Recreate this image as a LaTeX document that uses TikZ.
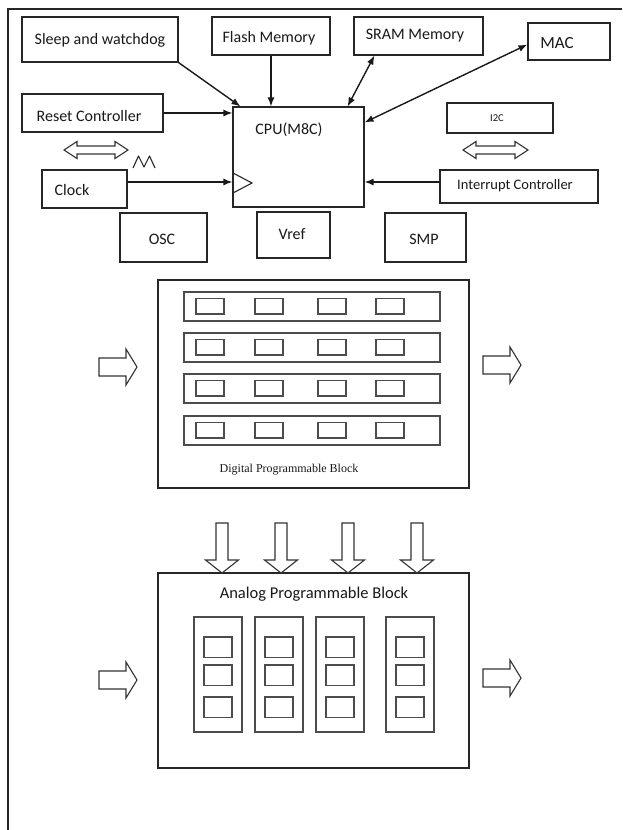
\documentclass[tikz,border=0pt]{standalone}
\usepackage{fontspec}
\setmainfont{Carlito}
\newfontfamily\digserif{Liberation Serif}
\usetikzlibrary{arrows.meta}
\newcommand\mybx[6][box]{\node[#1, minimum width={((#5)-(#3))*1pt}, minimum height={((#6)-(#4))*1pt}] (#2) at ({((#3)+(#5))/2},{((#4)+(#6))/2}) {};}
\begin{document}
\begin{tikzpicture}[x=1pt,y=-1pt,
  box/.style={draw=black!85, line width=1.1pt, inner sep=0pt, fill=white},
  cell/.style={draw=black!70, line width=1.1pt, inner sep=0pt},
  lbl/.style={inner sep=0pt, anchor=center, text=black!90, font=\fontsize{16}{19}\selectfont},
  small/.style={lbl, font=\fontsize{14.5}{17}\selectfont},
  tiny/.style={lbl, font=\fontsize{10.5}{12}\selectfont},
  conn/.style={draw=black!90, line width=1.4pt, -{Latex[length=9pt,width=7pt]}},
  conn2/.style={draw=black!90, line width=1.4pt, {Latex[length=9pt,width=7pt]}-{Latex[length=9pt,width=7pt]}},
  hollow/.style={draw=black!80, line width=1.1pt, fill=white, line join=miter}]
\useasboundingbox[fill=white] (0,0) rectangle (622,830);
% frame
\draw[black!85, line width=1.2pt] (8,830) -- (8,9) -- (622,9);
% top blocks
\mybx{sleep}{22}{17}{178}{62}
\mybx{flash}{212}{17}{330}{55}
\mybx{sram}{354}{17}{483}{55}
\mybx{mac}{528}{23}{610}{60}
\mybx{reset}{22}{94}{163}{132}
\mybx{cpu}{233}{107}{364}{207}
\mybx{iic}{447}{103}{553}{133}
\mybx{clock}{42}{170}{127}{208}
\mybx{intr}{440}{170}{598}{203}
\mybx{osc}{120}{213}{207}{262}
\mybx{vref}{257}{212}{330}{258}
\mybx{smp}{385}{213}{466}{262}
\node[lbl] (tsleep) at (100,40) {Sleep and watchdog};
\node[lbl] (tflash) at (269,38) {Flash Memory};
\node[lbl] (tsram) at (415,36) {SRAM Memory};
\node[lbl, font=\fontsize{17}{20}\selectfont] (tmac) at (557,43) {MAC};
\node[lbl] (treset) at (89,116) {Reset Controller};
\node[lbl] (tcpu) at (289,130) {CPU(M8C)};
\node[tiny] (tiic) at (497,118) {I2C};
\node[lbl] (tclock) at (72,190) {Clock};
\node[small] (tintr) at (515,186) {Interrupt Controller};
\node[lbl] (tosc) at (162,239) {OSC};
\node[lbl] (tvref) at (292,234) {Vref};
\node[lbl] (tsmp) at (424,239) {SMP};
% connectors
\draw[conn] (sleep.south east) -- ([xshift=8pt]cpu.north west);
\draw[conn] (flash.south) -- (flash.south |- cpu.north);
\draw[conn2] ([xshift=21pt]sram.south west) -- ([xshift=-17pt]cpu.north east);
\draw[conn2] ([yshift=-3pt]mac.west) -- ([yshift=-16pt]cpu.north east);
\draw[conn] (reset.east) -- (reset.east -| cpu.west);
\draw[conn] ([yshift=7pt]clock.east) -- ([yshift=7pt]clock.east -| cpu.west);
\draw[conn] ([yshift=4.5pt]intr.west) -- ([yshift=4.5pt]intr.west -| cpu.east);
% clock triangle and waveform
\draw[black!85, line width=1.1pt] (233,173) -- (252,183) -- (233,193);
\draw[black!85, line width=1.1pt, line join=round] (133,168) -- (138.5,156) -- (144,167) -- (149.5,156) -- (155,168);
% hollow double arrows
\draw[hollow] (64,150) -- (77,141.5) -- (77,146) -- (115,146) -- (115,141.5) -- (128,150) -- (115,158.5) -- (115,154) -- (77,154) -- (77,158.5) -- cycle;
\draw[hollow] (463,150) -- (476,141.5) -- (476,146) -- (515,146) -- (515,141.5) -- (528,150) -- (515,158.5) -- (515,154) -- (476,154) -- (476,158.5) -- cycle;
% digital block
\mybx{digital}{158}{280}{469}{488}
\foreach \r/\t in {1/292,2/333,3/374,4/416}{
  \mybx[cell]{drow\r}{184}{\t}{440}{\t+29}
  \foreach \c/\x in {1/196,2/255,3/318,4/376}{
    \mybx[cell]{dcell\r\c}{\x}{\t+6.5}{\x+28}{\t+22}
  }
}
\node[lbl, font=\digserif\fontsize{12}{14}\selectfont] (tdig) at (289,470) {Digital Programmable Block};
\draw[hollow] (99,358) -- (126,358) -- (126,349) -- (137,367) -- (126,385) -- (126,376) -- (99,376) -- cycle;
\draw[hollow] (483,356) -- (510,356) -- (510,347) -- (521,365) -- (510,383) -- (510,374) -- (483,374) -- cycle;
% analog block
\mybx{analog}{158}{573}{469}{768}
\node[lbl, font=\fontsize{16.5}{19}\selectfont] (tana) at (314,594) {Analog Programmable Block};
\foreach \c/\x in {1/194,2/255,3/316,4/386}{
  \mybx[cell]{acol\c}{\x}{617}{\x+48}{732}
  \foreach \k/\y in {1/637,2/665,3/697}{
    \mybx[cell]{acell\c\k}{\x+10}{\y}{\x+38}{\y+20.5}
  }
}
\foreach \xc in {222,281,348,417}{
  \draw[hollow] (\xc-6,523) -- (\xc-6,560) -- (\xc-16.5,560) -- (\xc,573) -- (\xc+16.5,560) -- (\xc+6,560) -- (\xc+6,523) -- cycle;
}
\draw[hollow] (99,671) -- (126,671) -- (126,662) -- (137,680) -- (126,698) -- (126,689) -- (99,689) -- cycle;
\draw[hollow] (483,669) -- (510,669) -- (510,660) -- (521,678) -- (510,696) -- (510,687) -- (483,687) -- cycle;
\end{tikzpicture}
\end{document}
